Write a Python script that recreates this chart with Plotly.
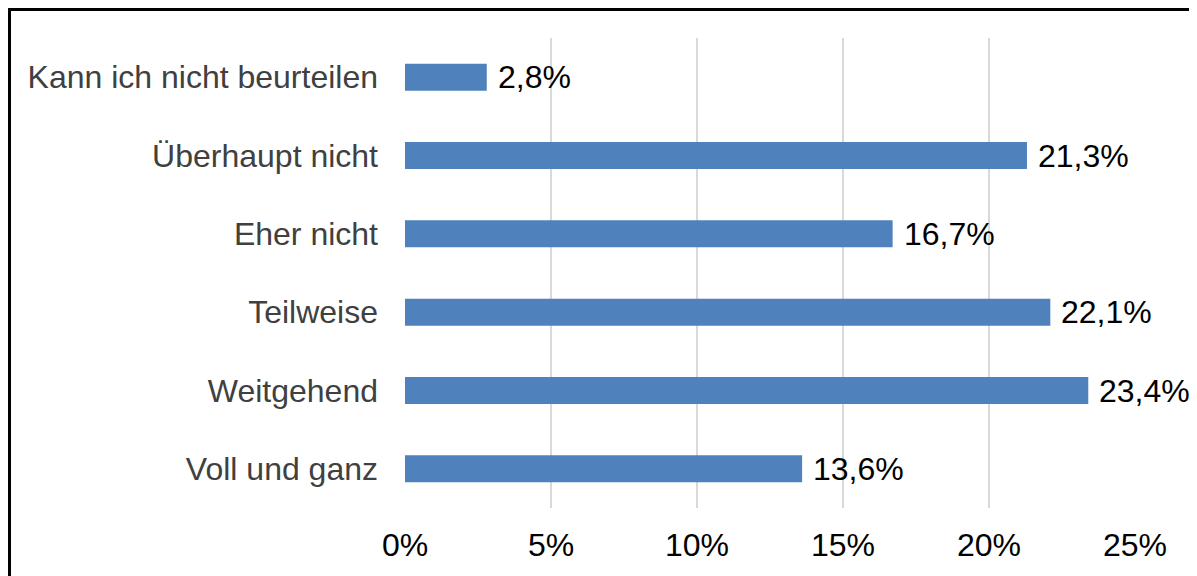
import plotly.graph_objects as go

categories = ["Voll und ganz", "Weitgehend", "Teilweise", "Eher nicht", "Überhaupt nicht", "Kann ich nicht beurteilen"]
values = [13.6, 23.4, 22.1, 16.7, 21.3, 2.8]
value_labels = ["13,6%", "23,4%", "22,1%", "16,7%", "21,3%", "2,8%"]
tick_vals = [0, 5, 10, 15, 20, 25]
tick_text = ["0%", "5%", "10%", "15%", "20%", "25%"]

OFF = 8  # page body margin offset
W, H = 1197, 576
L = 405 - OFF
T = 38 - OFF
Rpx = 1135 - OFF
Bpx = 508 - OFF
R = W - Rpx
B = H - Bpx
pw, ph = Rpx - L, Bpx - T

def fx(p):  # figure px -> paper x
    return (p - L) / pw

def fy(p):  # figure px -> paper y
    return (Bpx - p) / ph

FONT = "Liberation Sans, Arial, sans-serif"
FS = 32

fig = go.Figure(go.Bar(
    x=values, y=categories, orientation="h",
    marker=dict(color="#4F81BD", line=dict(width=0)),
    hoverinfo="skip",
))

annotations = [
    dict(x=v, y=c, xref="x", yref="y", text=t, showarrow=False,
         xanchor="left", yanchor="middle", xshift=9,
         font=dict(family=FONT, size=FS, color="#000000"))
    for v, c, t in zip(values, categories, value_labels)
]

fig.update_layout(
    width=W, height=H,
    margin=dict(l=L, r=R, t=T, b=B, pad=0, autoexpand=False),
    paper_bgcolor="white", plot_bgcolor="white",
    bargap=0.655,
    showlegend=False,
    font=dict(family=FONT, size=FS),
    annotations=annotations,
    xaxis=dict(range=[0, 25], tickvals=tick_vals, ticktext=tick_text,
               showgrid=True, gridcolor="#D9D9D9", gridwidth=2,
               zeroline=False, showline=False,
               tickfont=dict(size=FS, color="#000000"),
               ticks="", ticklabelstandoff=15, automargin=False),
    yaxis=dict(showgrid=False, zeroline=False, showline=False,
               tickfont=dict(size=FS, color="#404040"),
               ticks="", ticklabelstandoff=26, automargin=False),
    shapes=[
        dict(type="line", xref="paper", yref="paper", x0=fx(1.5), x1=fx(1.5), y0=fy(0), y1=fy(600),
             line=dict(color="black", width=3)),
        dict(type="line", xref="paper", yref="paper", x0=fx(0), x1=fx(1197), y0=fy(1.5), y1=fy(1.5),
             line=dict(color="black", width=3)),
        dict(type="line", xref="paper", yref="paper", x0=fx(1187.5), x1=fx(1187.5), y0=fy(3), y1=fy(600),
             line=dict(color="#C8C8C8", width=1)),
    ],
)

fig.write_html("out.html")
